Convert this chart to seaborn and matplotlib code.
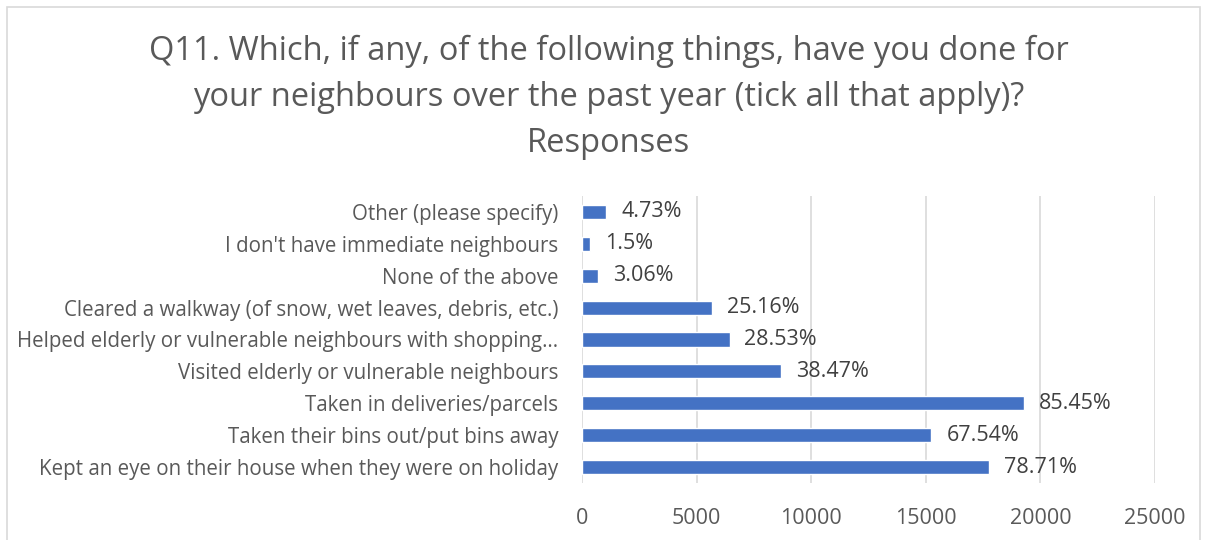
import numpy as np
import pandas as pd
import matplotlib
matplotlib.use("Agg")
import matplotlib.pyplot as plt
import seaborn as sns
from matplotlib.patches import Rectangle

# values (counts), top to bottom as displayed
categories = [
    "Other (please specify)",
    "I don't have immediate neighbours",
    "None of the above",
    "Cleared a walkway (of snow, wet leaves, debris, etc.)",
    "Helped elderly or vulnerable neighbours with shopping\u2026",
    "Visited elderly or vulnerable neighbours",
    "Taken in deliveries/parcels",
    "Taken their bins out/put bins away",
    "Kept an eye on their house when they were on holiday",
]
counts = [1067, 339, 691, 5678, 6439, 8682, 19284, 15243, 17763]
pct_labels = ["4.73%", "1.5%", "3.06%", "25.16%", "28.53%", "38.47%",
              "85.45%", "67.54%", "78.71%"]
x_ticks = [0, 5000, 10000, 15000, 20000, 25000]

title = ("Q11. Which, if any, of the following things, have you done for\n"
         "your neighbours over the past year (tick all that apply)?\n"
         "Responses")

sns.set_theme(style="white")
plt.rcParams['font.family'] = ['Open Sans', 'DejaVu Sans']

text_col = "#595959"
bar_col = "#4472C4"

df = pd.DataFrame({"category": categories, "count": counts})

fig = plt.figure(figsize=(12.05, 5.4), dpi=100)
ax = fig.add_axes([0.483, 0.1056, 0.4755, 0.5314])

sns.barplot(data=df, y="category", x="count", color=bar_col, width=0.44,
            saturation=1, orient="h", ax=ax)

for bar, lab in zip(ax.patches, pct_labels):
    ax.text(bar.get_width() + 650, bar.get_y() + bar.get_height() / 2, lab,
            va="center", ha="left", fontsize=15.5, color="#404040")

ax.set_xlim(0, 25000)
ax.set_ylim(8.5, -0.5)
ax.set_xticks(x_ticks)
ax.set_xticklabels([str(t) for t in x_ticks], fontsize=15.5, color=text_col)
ax.tick_params(axis="y", labelsize=14.8, labelcolor=text_col, length=0, pad=17)
ax.tick_params(axis="x", length=0, pad=18)
ax.grid(axis="x", color="#d9d9d9", linewidth=1.2)
ax.set_axisbelow(True)
for s in ax.spines.values():
    s.set_visible(False)
ax.set_xlabel("")
ax.set_ylabel("")

fig.text(0.505, 0.935, title, ha="center", va="top", fontsize=23.5,
         color=text_col, linespacing=1.52)

# chart frame
fig.patches.append(Rectangle((7 / 1205, -0.05), 1193 / 1205, 1.05 - 7 / 540,
                             transform=fig.transFigure, fill=False,
                             edgecolor="#d9d9d9", linewidth=1.2))

fig.savefig("out.png", dpi=100)
plt.close(fig)
